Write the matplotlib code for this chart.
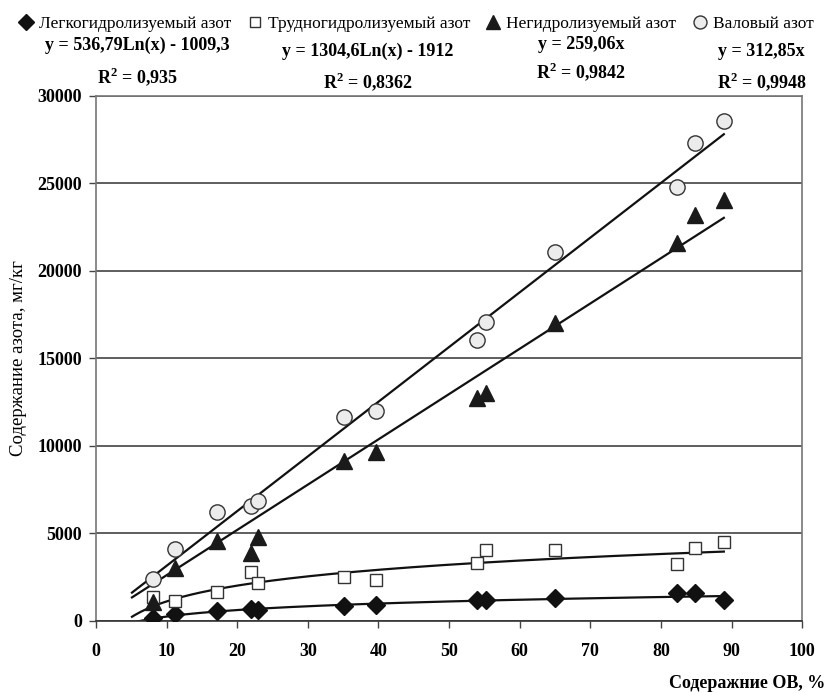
import numpy as np
import matplotlib
matplotlib.use("Agg")
import matplotlib.pyplot as plt

# Содержание ОВ, %
om_content = [8.1, 11.2, 17.2, 21.9, 23.0, 35.1, 39.6, 54.0, 55.2, 65.0, 82.2, 84.8, 88.9]

# Содержание азота, мг/кг
easy_n = [126, 372, 544, 659, 601, 848, 888, 1174, 1200, 1306, 1558, 1592, 1174]
hard_n = [1329, 1117, 1650, 2760, 2165, 2474, 2320, 3276, 4038, 4038, 3219, 4170, 4479]
nonhydro_n = [1077, 2990, 4570, 3850, 4765, 9095, 9610, 12726, 13012, 17022, 21564, 23167, 24043]
total_n = [2377, 4095, 6214, 6575, 6844, 11615, 11999, 16025, 17079, 21065, 24811, 27331, 28568]

series_names = ["Легкогидролизуемый азот", "Трудногидролизуемый азот",
                "Негидролизуемый азот", "Валовый азот"]

# trend line coefficients as printed on the chart
log_fit_easy = (536.79, -1009.3)
log_fit_hard = (1304.6, -1912)
lin_fit_nonhydro = 259.06
lin_fit_total = 312.85

eq_texts = [
    ("y = 536,79Ln(x) - 1009,3", "R$^{\\mathbf{2}}$ = 0,935"),
    ("y = 1304,6Ln(x) - 1912", "R$^{\\mathbf{2}}$ = 0,8362"),
    ("y = 259,06x", "R$^{\\mathbf{2}}$ = 0,9842"),
    ("y = 312,85x", "R$^{\\mathbf{2}}$ = 0,9948"),
]

plt.rcParams["font.family"] = ["Liberation Serif", "DejaVu Serif"]
plt.rcParams["mathtext.fontset"] = "custom"
plt.rcParams["mathtext.rm"] = "Liberation Serif"
plt.rcParams["mathtext.bf"] = "Liberation Serif:bold"

fig = plt.figure(figsize=(8.28, 6.93), dpi=100)
ax = fig.add_axes([0.1159, 0.1046, 0.8530, 0.7569])

x = np.array(om_content)
x_fit = np.linspace(x.min() - 3, x.max(), 200)

# Trend lines
ax.plot(x_fit, log_fit_easy[0] * np.log(x_fit) + log_fit_easy[1], color="#111111", lw=1.6, zorder=2)
ax.plot(x_fit, log_fit_hard[0] * np.log(x_fit) + log_fit_hard[1], color="#111111", lw=1.6, zorder=2)
ax.plot(x_fit, lin_fit_nonhydro * x_fit, color="#111111", lw=1.6, zorder=2)
ax.plot(x_fit, lin_fit_total * x_fit, color="#111111", lw=1.6, zorder=2)

# Data points
ax.plot(x, easy_n, "D", ms=9, color="#111111", mec="#111111", label=series_names[0], zorder=3)
ax.plot(x, hard_n, "s", ms=9, mfc="white", mec="#333333", mew=1.0, label=series_names[1], zorder=3)
ax.plot(x, nonhydro_n, "^", ms=12, color="#1a1a1a", mec="#1a1a1a", label=series_names[2], zorder=3)
ax.plot(x, total_n, "o", ms=11, mfc="#ececec", mec="#333333", mew=1.0, label=series_names[3], zorder=3)

ax.set_xlim(0, 100)
ax.set_ylim(0, 30000)
ax.set_xticks(np.arange(0, 101, 10))
ax.set_yticks(np.arange(0, 30001, 5000))
ax.yaxis.grid(True, color="#333333", lw=1.1)
ax.set_axisbelow(True)

for side in ["left", "right", "top"]:
    ax.spines[side].set_color("#777777")
    ax.spines[side].set_linewidth(1.2)
ax.spines["bottom"].set_color("#333333")
ax.spines["bottom"].set_linewidth(1.2)

ax.tick_params(axis="both", direction="out", length=5, width=1.0, color="#444444",
               labelsize=13)
ax.tick_params(axis="x", pad=11)
ax.tick_params(axis="y", pad=5)
for lbl in ax.get_xticklabels() + ax.get_yticklabels():
    lbl.set_fontweight("bold")

# axis titles
fig.text(0.022, 0.483, "Содержание азота, мг/кг", rotation=90, ha="center", va="center",
         fontsize=13.5)
fig.text(0.997, 0.0144, "Содеражние ОВ, %", ha="right", va="center",
         fontsize=13, fontweight="bold")

fig.legend(loc="upper left", bbox_to_anchor=(0.003, 1.0), ncol=4, frameon=False,
           fontsize=12.5, handlelength=0.9, handletextpad=0.3, columnspacing=0.9,
           markerscale=0.85)

eq_pos = [(0.166, 0.935, 0.890), (0.444, 0.926, 0.882), (0.702, 0.9355, 0.896), (0.920, 0.925, 0.882)]
for (eq, r2), (xp, y1, y2) in zip(eq_texts, eq_pos):
    fig.text(xp, y1, eq, ha="center", va="center", fontsize=13, fontweight="bold")
    fig.text(xp, y2, r2, ha="center", va="center", fontsize=13, fontweight="bold")

fig.savefig("out.png", dpi=100)
